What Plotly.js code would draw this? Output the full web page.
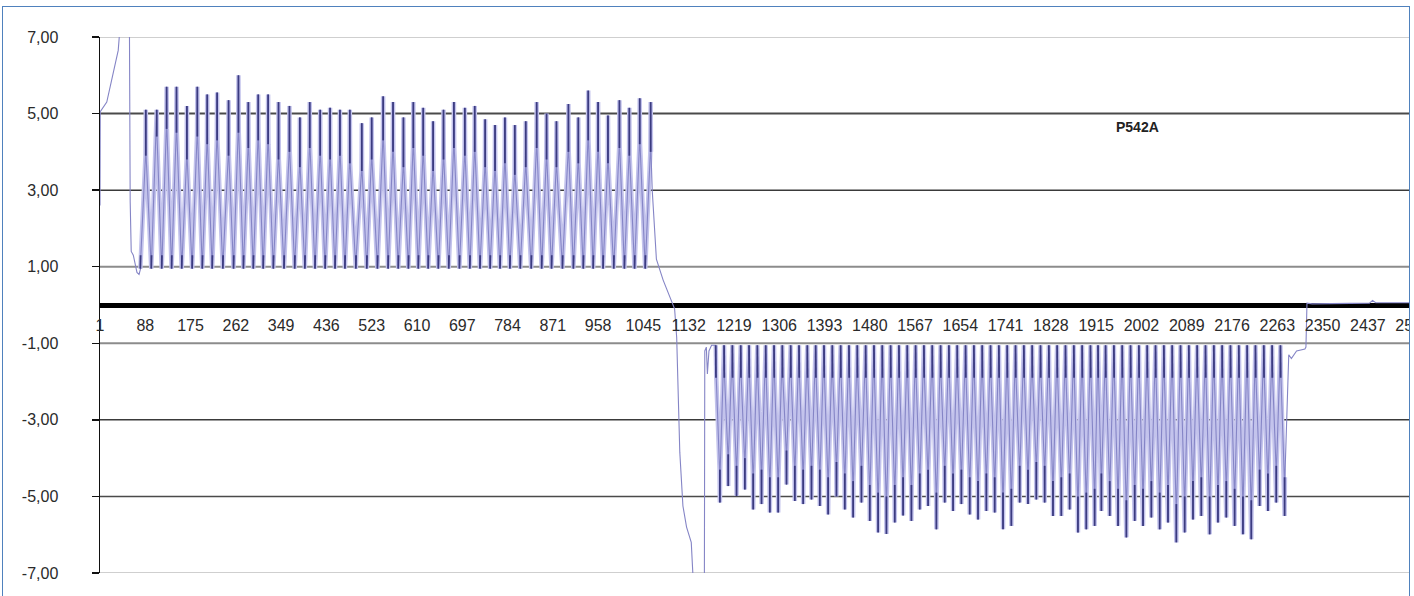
<!DOCTYPE html>
<html>
<head>
<meta charset="utf-8">
<script src="https://cdn.plot.ly/plotly-3.0.1.min.js"></script>
<style>
  html, body { margin: 0; padding: 0; background: #ffffff; overflow: hidden; }
  #wrap { position: relative; width: 1414px; height: 596px; overflow: hidden; }
  #chart { position: absolute; left: 0; top: 0; width: 1460px; height: 596px; }
  #mask { position: absolute; left: 1410px; top: 0; width: 10px; height: 596px; background: #ffffff; }
  #frame { position: absolute; left: 2px; top: 6px; width: 1406px; height: 620px;
           border: 1.5px solid #4f81bd; pointer-events: none; }
</style>
</head>
<body>
<div id="wrap">
  <div id="chart"></div>
  <div id="mask"></div>
  <div id="frame"></div>
</div>
<script>
// ---------- data ----------
// opening segment (sample index, value)
const startX = [1, 1.5, 14, 36, 38, 40, 57, 59, 61, 65, 72, 76, 79];
const startY = [2.6, 5.05, 5.3, 6.65, 7.0, 9.0, 9.0, 2.7, 1.4, 1.3, 0.85, 0.8, 0.95];

// positive pulse train: position of each peak, peak value, value where the steep (dark) stroke ends
const posPeakX = [89,110,129,148,168,188,207,226,248,267,286,305,324,344,365,385,404,424,443,462,481,504,523,545,564,584,603,622,641,661,681,702,721,741,760,779,798,819,840,859,878,901,920,939,958,977,999,1018,1038,1059];
const posPeakY = [5.1,5.1,5.7,5.7,5.2,5.7,5.5,5.55,5.35,6.0,5.3,5.5,5.5,5.3,5.2,4.9,5.3,5.1,5.15,5.1,5.1,4.75,4.9,5.45,5.3,4.9,5.3,5.15,4.8,5.1,5.3,5.15,5.2,4.85,4.7,4.9,4.7,4.8,5.3,5.0,4.8,5.25,4.9,5.6,5.3,4.95,5.35,5.15,5.4,5.3];
const posStroke = [3.9,4.4,4.6,4.5,3.8,4.4,4.2,4.3,3.9,4.5,4.1,4.3,4.2,3.8,4.0,3.6,4.1,3.9,3.8,3.9,3.7,3.5,3.8,4.3,4.0,3.6,4.1,3.9,3.5,3.8,4.1,3.9,4.0,3.6,3.5,3.7,3.4,3.6,4.1,3.8,3.6,4.0,3.7,4.3,4.0,3.7,4.1,3.9,4.2,4.0];
const posLow = 0.95, posLowStroke = 1.3;

// transition from positive to negative
const midX = [1062, 1070, 1083, 1099, 1105, 1109, 1112, 1115, 1121, 1128, 1137, 1140, 1142, 1162, 1163, 1166, 1168, 1171, 1176];
const midY = [3.0, 1.2, 0.65, 0.13, -0.1, -0.85, -2.1, -3.85, -5.25, -5.8, -6.2, -7.0, -9.0, -9.0, -1.2, -1.1, -1.8, -1.2, -1.05];

// negative pulse train: position of each trough, trough value, value where the steep (dark) stroke ends
const negTroughX = [1192,1208,1224,1240,1256,1272,1288,1304,1320,1336,1352,1368,1384,1400,1416,1432,1448,1464,1480,1496,1512,1528,
  1544,1560,1576,1592,1608,1624,1640,1656,1672,1688,1704,1720,1736,1752,1768,1784,1800,1816,1832,1848,1864,1880,1896,1912,
  1925,1941,1957,1973,1989,2005,2021,2037,2053,2069,2085,2101,2117,2133,2149,2165,2181,2197,2213,2229,2245,2261,2277];
const negTroughY = [-5.16,-4.73,-4.99,-4.82,-5.34,-5.2,-5.42,-5.42,-4.69,-5.12,-5.2,-5.08,-5.25,-5.47,-5.0,-5.34,-5.55,-5.16,-5.64,-5.94,-5.98,-5.68,
  -5.5,-5.64,-5.34,-5.25,-5.86,-5.16,-5.38,-5.2,-5.47,-5.6,-5.38,-5.42,-5.86,-5.77,-5.16,-5.2,-5.08,-5.16,-5.51,-5.51,-5.34,-5.94,-5.86,-5.77,
  -5.38,-5.51,-5.77,-6.07,-5.64,-5.77,-5.55,-5.86,-5.68,-6.2,-5.94,-5.6,-5.51,-5.99,-5.68,-5.55,-5.77,-5.99,-6.12,-5.25,-5.38,-5.16,-5.51];
const negStroke = [-4.3,-3.9,-4.2,-4.0,-4.4,-4.3,-4.5,-4.5,-3.8,-4.2,-4.3,-4.2,-4.3,-4.5,-4.1,-4.4,-4.6,-4.2,-4.7,-4.9,-5.0,-4.7,
  -4.5,-4.7,-4.4,-4.3,-4.9,-4.2,-4.4,-4.3,-4.5,-4.6,-4.4,-4.5,-4.9,-4.8,-4.2,-4.3,-4.1,-4.2,-4.6,-4.5,-4.4,-5.0,-4.9,-4.8,
  -4.4,-4.6,-4.8,-5.1,-4.7,-4.8,-4.6,-4.9,-4.7,-5.2,-5.0,-4.6,-4.5,-5.0,-4.7,-4.6,-4.8,-5.0,-5.1,-4.3,-4.4,-4.2,-4.5];
const negTop = -1.05, negTopStroke = -1.9;

// closing segment
const endX = [2285, 2290, 2300, 2316, 2318, 2320, 2330, 2440, 2446, 2452, 2614];
const endY = [-1.3, -1.4, -1.2, -1.15, -1.1, 0.05, 0.03, 0.05, 0.12, 0.06, 0.06];

// axis labels
const xTickVals = [1,88,175,262,349,436,523,610,697,784,871,958,1045,1132,1219,1306,1393,1480,1567,1654,1741,1828,1915,2002,2089,2176,2263,2350,2437,2524];
const yTickVals = [7, 5, 3, 1, -1, -3, -5, -7];
const yTickText = ["7,00", "5,00", "3,00", "1,00", "-1,00", "-3,00", "-5,00", "-7,00"];
const seriesLabel = "P542A";

// ---------- assemble the line from the read points ----------
const X = [], Y = [];     // full signal
const DX = [], DY = [];   // overlapping steep strokes (drawn darker)
const PX = [], PY = [];   // pulse-train part only (for the light band)
function push(a, b, band) { X.push(a); Y.push(b); if (band) { PX.push(a); PY.push(b); } }
function seg(x0, y0, x1, y1) { DX.push(x0, x1, null); DY.push(y0, y1, null); }
startX.forEach((v, i) => push(v, startY[i], false));
posPeakX.forEach((px, i) => {
  const gapPrev = i > 0 ? px - posPeakX[i - 1] : posPeakX[1] - posPeakX[0];
  const xl = px - gapPrev / 2;
  push(xl, posLow, true);
  push(xl + 1, posLowStroke, true);
  push(px - 0.6, posStroke[i], true);
  push(px, posPeakY[i], true);
  push(px + 0.6, posStroke[i], true);
  seg(px, posPeakY[i], px, posStroke[i]);
  seg(xl, posLow, xl + 0.5, posLowStroke);
});
PX.push(null); PY.push(null);
midX.forEach((v, i) => push(v, midY[i], false));
negTroughX.forEach((tx, i) => {
  const gapPrev = i > 0 ? tx - negTroughX[i - 1] : negTroughX[1] - negTroughX[0];
  const xt = tx - gapPrev / 2;
  push(xt, negTop, true);
  push(xt + 1, negTopStroke, true);
  push(tx - 0.6, negStroke[i], true);
  push(tx, negTroughY[i], true);
  push(tx + 0.6, negStroke[i], true);
  seg(tx, negTroughY[i], tx, negStroke[i]);
  seg(xt, negTop, xt + 0.5, negTopStroke);
});
endX.forEach((v, i) => push(v, endY[i], false));

// gridline styles (per level)
const gridColors = ['#cfcfcf', '#4a4a4a', '#3a3a3a', '#8c8c8c', '#8c8c8c', '#3a3a3a', '#4a4a4a', '#cfcfcf'];
const gridWidths = [2, 2, 1.5, 2, 2, 1.5, 1.5, 2];
const shapes = yTickVals.map((v, i) => ({
  type: 'line', xref: 'paper', yref: 'y', x0: 0, x1: 1, y0: v, y1: v,
  layer: 'below', line: { color: gridColors[i], width: gridWidths[i] }
}));

const band = {
  x: PX, y: PY, type: 'scatter', mode: 'lines', connectgaps: false,
  line: { color: '#c3c3ec', width: 4.5 },
  hoverinfo: 'skip', showlegend: false
};
const outline = {
  x: X, y: Y, type: 'scatter', mode: 'lines',
  line: { color: '#8585c6', width: 1.1 },
  hoverinfo: 'skip', showlegend: false
};
const strokes = {
  x: DX, y: DY, type: 'scatter', mode: 'lines', connectgaps: false,
  line: { color: '#3b3b80', width: 1.8 },
  hoverinfo: 'skip', showlegend: false
};

const font = { family: 'Arial, "Liberation Sans", sans-serif', size: 16, color: '#2a2a2a' };

const layout = {
  width: 1460, height: 596,
  margin: { l: 100, r: 0, t: 37, b: 23, pad: 0 },
  paper_bgcolor: '#ffffff', plot_bgcolor: '#ffffff',
  showlegend: false,
  xaxis: {
    range: [1, 2614], showgrid: false, zeroline: false, showline: false,
    anchor: 'free', position: 0.5,
    tickmode: 'array', tickvals: xTickVals, ticktext: xTickVals.map(String),
    ticks: 'outside', ticklen: 6, tickcolor: 'rgba(0,0,0,0)',
    tickfont: font, tickangle: 0
  },
  yaxis: {
    range: [-7, 7], showgrid: false,
    zeroline: true, zerolinecolor: '#000000', zerolinewidth: 5,
    showline: true, linecolor: '#111111', linewidth: 1.5,
    tickmode: 'array', tickvals: yTickVals, ticktext: yTickText,
    ticks: 'outside', ticklen: 7, tickcolor: '#111111', tickwidth: 1.5,
    ticklabelstandoff: 30, tickfont: font
  },
  shapes: shapes,
  annotations: [{
    x: 1995, y: 4.65, xref: 'x', yref: 'y', text: seriesLabel, showarrow: false,
    font: { family: 'Arial, "Liberation Sans", sans-serif', size: 14, color: '#222222', weight: 'bold' }
  }]
};

Plotly.newPlot('chart', [band, outline, strokes], layout, { staticPlot: true, displayModeBar: false });
</script>
</body>
</html>
